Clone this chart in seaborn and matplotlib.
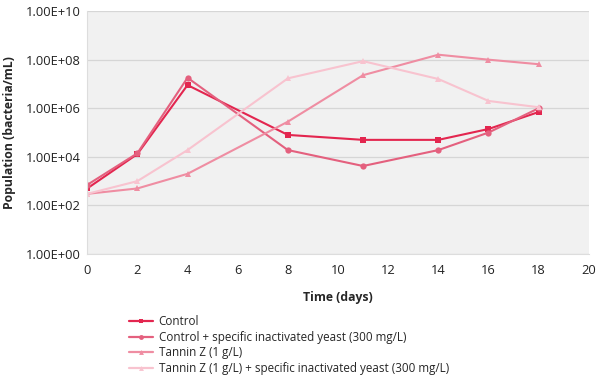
import matplotlib
matplotlib.use("Agg")
import matplotlib.pyplot as plt
import seaborn as sns
import pandas as pd
import numpy as np
from matplotlib.ticker import FixedLocator, FuncFormatter
from matplotlib.lines import Line2D

days = [0, 2, 4, 8, 11, 14, 16, 18]
series_names = [
    "Control",
    "Control + specific inactivated yeast (300 mg/L)",
    "Tannin Z (1 g/L)",
    "Tannin Z (1 g/L) + specific inactivated yeast (300 mg/L)",
]
control = [5e2, 1.3e4, 9e6, 8e4, 5e4, 5e4, 1.4e5, 7e5]
control_yeast = [7e2, 1.4e4, 1.8e7, 1.9e4, 4.2e3, 1.9e4, 1.0e5, 1.0e6]
tannin = [3e2, 5e2, 2e3, 2.8e5, 2.3e7, 1.6e8, 1.0e8, 6.5e7]
tannin_yeast = [3e2, 1e3, 1.9e4, 1.7e7, 8.7e7, 1.6e7, 2e6, 1.1e6]
y_ticks = [1e0, 1e2, 1e4, 1e6, 1e8, 1e10]
x_ticks = [0, 2, 4, 6, 8, 10, 12, 14, 16, 18, 20]

colors = ["#e3264f", "#e4607e", "#ef8da2", "#f8c3cf"]
markers = ["s", "o", "^", "^"]

rows = []
for name, vals in zip(series_names, [control, control_yeast, tannin, tannin_yeast]):
    for d, v in zip(days, vals):
        rows.append({"Time": d, "Population": v, "Series": name})
df = pd.DataFrame(rows)

sns.set_style("white")
plt.rcParams["font.family"] = ["Open Sans", "DejaVu Sans"]

fig = plt.figure(figsize=(6.14, 3.82), dpi=100)
ax = fig.add_axes([0.142, 0.335, 0.817, 0.636])
ax.set_facecolor("#f1f1f1")

sns.lineplot(data=df, x="Time", y="Population", hue="Series", style="Series",
             hue_order=series_names, style_order=series_names,
             palette=dict(zip(series_names, colors)),
             markers=dict(zip(series_names, markers)),
             dashes=False, markersize=4.5, markeredgewidth=0, linewidth=1.5,
             ax=ax, legend=False)

ax.set_yscale("log")
ax.set_ylim(1e0, 1e10)
ax.set_xlim(0, 20)
ax.yaxis.set_major_locator(FixedLocator(y_ticks))
ax.yaxis.set_minor_locator(FixedLocator([]))
ax.yaxis.set_major_formatter(FuncFormatter(lambda v, p: "1.00E+%02d" % int(round(np.log10(v)))))
ax.set_xticks(x_ticks)
ax.grid(axis="y", color="#d6d6d6", linewidth=0.9)
ax.set_axisbelow(True)
for s in ["top", "right"]:
    ax.spines[s].set_visible(False)
ax.spines["left"].set_color("#dddddd")
ax.spines["bottom"].set_color("#dddddd")
ax.tick_params(axis="both", labelsize=9.3, colors="#222222", length=0)
ax.tick_params(axis="x", pad=7)
ax.tick_params(axis="y", pad=5)

ax.set_xlabel("Time (days)", fontsize=8.8, fontweight="bold", labelpad=10)
ax.set_ylabel("Population (bacteria/mL)", fontsize=8.8, fontweight="bold", labelpad=7)

handles = [Line2D([0], [0], color=c, marker=m, markersize=3.5, markeredgewidth=0, linewidth=1.6)
           for c, m in zip(colors, markers)]
fig.legend(handles, series_names, loc="upper left", bbox_to_anchor=(0.21, 0.175),
           frameon=False, fontsize=8.4, handlelength=2.1, handletextpad=0.45,
           labelspacing=0.22, borderaxespad=0, borderpad=0)

fig.savefig("out.png", dpi=100)
